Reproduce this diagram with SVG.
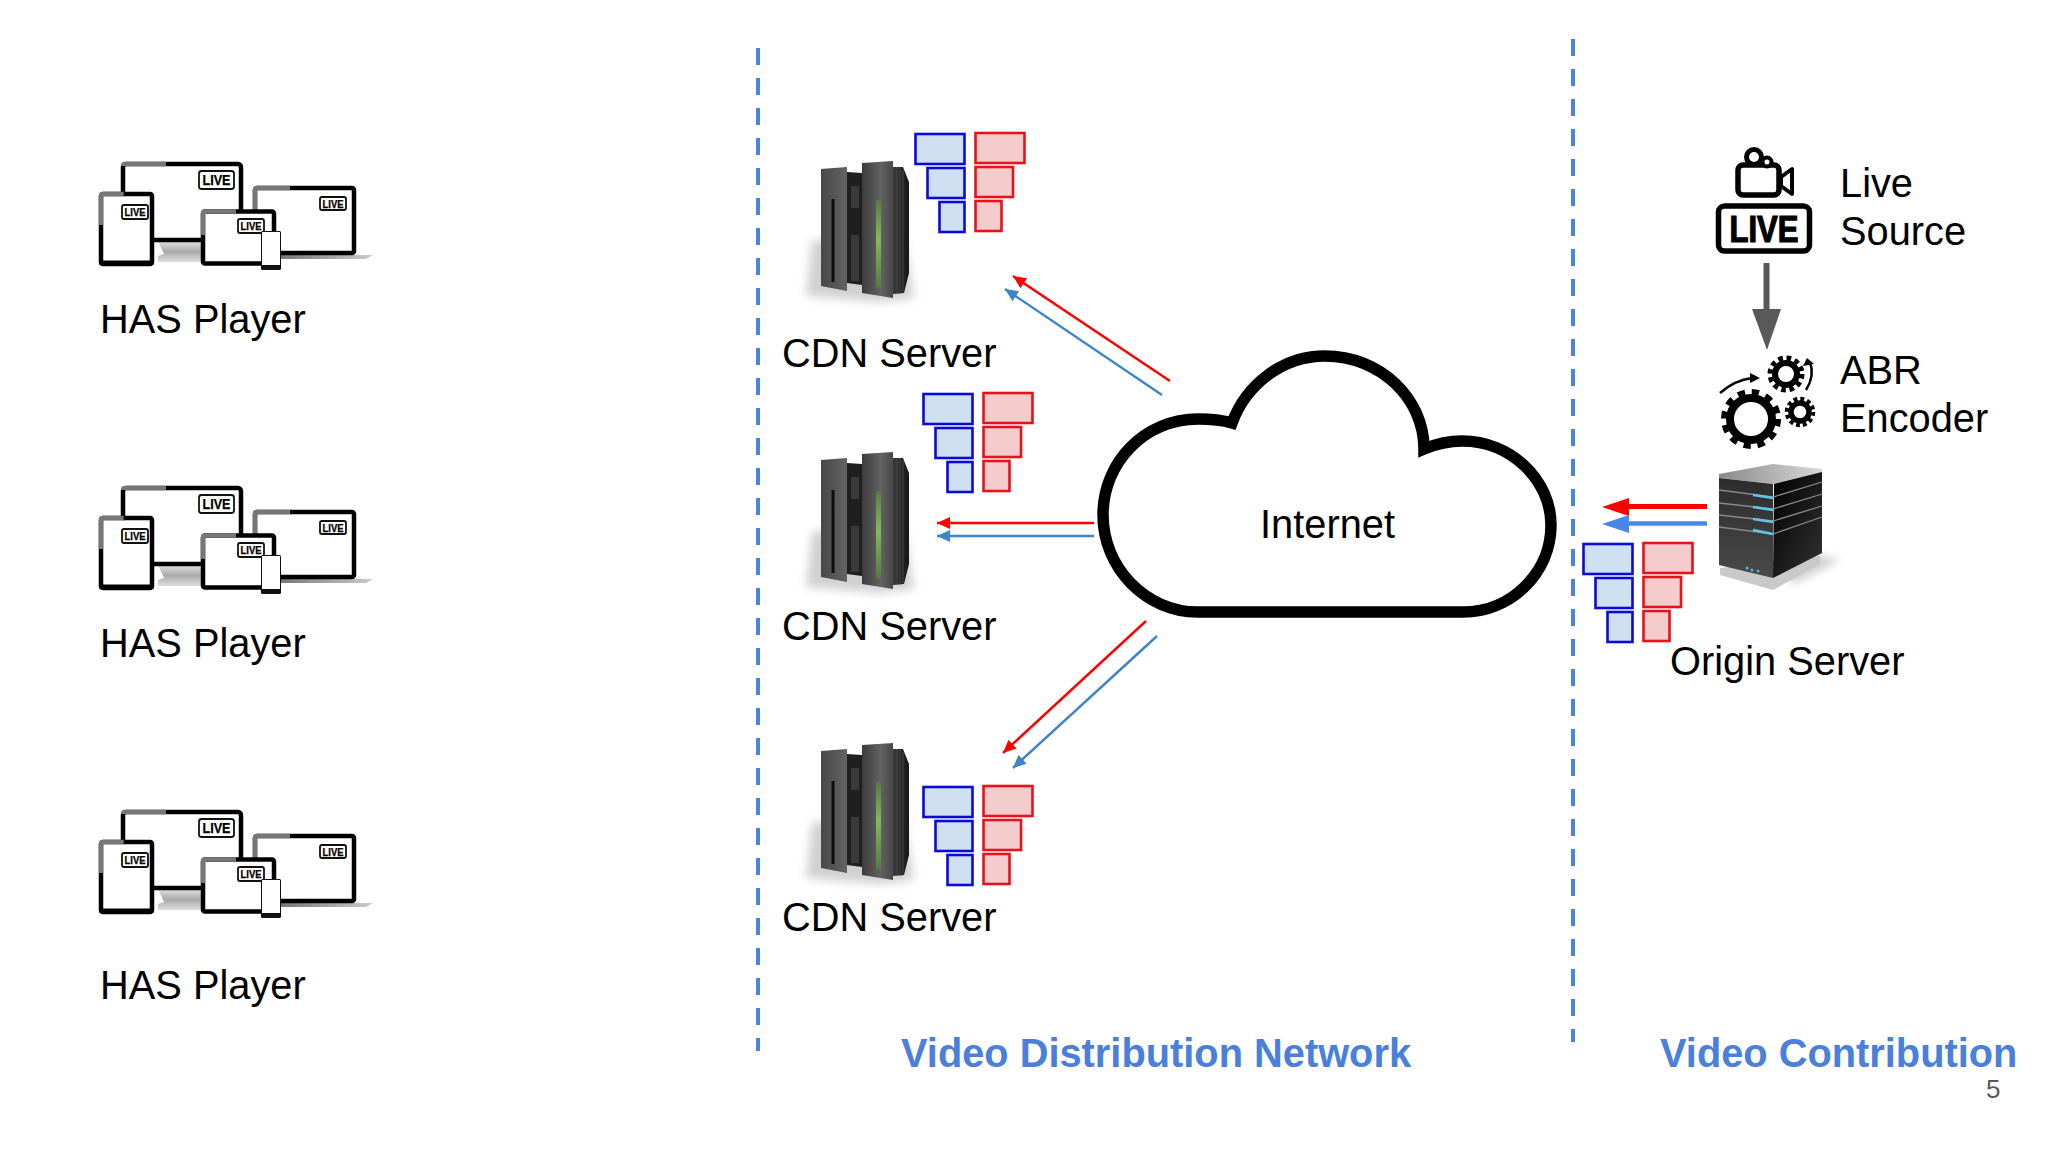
<svg xmlns="http://www.w3.org/2000/svg" width="2048" height="1152" viewBox="0 0 2048 1152">
<style>
text{font-family:"Liberation Sans",Arial,sans-serif;fill:#000}
.lbl{font-size:39.8px}
.ttl{font-size:39.8px;font-weight:bold;fill:#4a7fdc}
.tag{font-size:10px;font-weight:bold;text-anchor:middle;stroke:#000;stroke-width:.25}
.dash{stroke:#4a86dc;stroke-width:4;stroke-dasharray:17 13;fill:none}
.blue{fill:#cfe0f1;stroke:#0a0ad8;stroke-width:2.600}
.red{fill:#f4cccc;stroke:#e8121c;stroke-width:2.600}
.fr{fill:#fff;stroke:#000;stroke-width:4.500;stroke-linejoin:round}
.tg{fill:#fff;stroke:#111;stroke-width:1.800}
.r{stroke:#f00;stroke-width:2.400;fill:none;marker-end:url(#mr)}
.b{stroke:#3d85c6;stroke-width:2.400;fill:none;marker-end:url(#mb)}
</style>
<defs>
<marker id="mr" markerUnits="userSpaceOnUse" markerWidth="14" markerHeight="12" refX="13" refY="6" orient="auto"><path d="M0 0L13 6L0 12Z" fill="#f00"/></marker>
<marker id="mb" markerUnits="userSpaceOnUse" markerWidth="14" markerHeight="12" refX="13" refY="6" orient="auto"><path d="M0 0L13 6L0 12Z" fill="#3d85c6"/></marker>
<linearGradient id="edge" x1="0" y1="0" x2="1" y2="0"><stop offset="0" stop-color="#777"/><stop offset=".9" stop-color="#777"/><stop offset="1" stop-color="#000"/></linearGradient>
<linearGradient id="stand" x1="0" y1="0" x2="0" y2="1"><stop offset="0" stop-color="#e2e2e2"/><stop offset=".5" stop-color="#aaa"/><stop offset="1" stop-color="#ddd"/></linearGradient>
<linearGradient id="base" x1="0" y1="0" x2="1" y2="0"><stop offset="0" stop-color="#777"/><stop offset="1" stop-color="#ccc"/></linearGradient>
<linearGradient id="p1" x1="0" y1="0" x2="1" y2="0"><stop offset="0" stop-color="#484848"/><stop offset="1" stop-color="#636363"/></linearGradient>
<linearGradient id="p2" x1="0" y1="0" x2="1" y2="0"><stop offset="0" stop-color="#3c3c3c"/><stop offset=".6" stop-color="#626262"/><stop offset="1" stop-color="#484848"/></linearGradient>
<linearGradient id="ribs" x1="0" y1="0" x2="1" y2="0"><stop offset="0" stop-color="#3a3a3a"/><stop offset="1" stop-color="#161616"/></linearGradient>
<linearGradient id="gr" x1="0" y1="0" x2="0" y2="1"><stop offset="0" stop-color="#5a7a48"/><stop offset=".45" stop-color="#80bb58"/><stop offset="1" stop-color="#557a46"/></linearGradient>
<linearGradient id="top" x1="0" y1="0" x2="1" y2="0"><stop offset="0" stop-color="#8a8a8a"/><stop offset="1" stop-color="#d8d8d8"/></linearGradient>
<linearGradient id="lf" x1="0" y1="0" x2="0" y2="1"><stop offset="0" stop-color="#2c2c2c"/><stop offset="1" stop-color="#4a4a4a"/></linearGradient>
<linearGradient id="rf" x1="0" y1="0" x2="1" y2="1"><stop offset="0" stop-color="#000"/><stop offset="1" stop-color="#333"/></linearGradient>
<filter id="soft" x="-30%" y="-30%" width="160%" height="160%"><feGaussianBlur stdDeviation="5"/></filter>

<g id="devices">
 <path d="M158 241H200L203 255L213 258V262H158L158 256L164 254Z" fill="url(#stand)"/>
 <rect class="fr" x="123" y="164" width="118" height="76" rx="3"/>
 <path d="M123 166Q123 164 125 164H166" stroke="#777" stroke-width="4.500" fill="none"/>
 <rect class="tg" x="199" y="171" width="35" height="18" rx="2.500" stroke-width="2"/>
 <text class="tag" x="216.500" y="185" style="font-size:14px" textLength="28" lengthAdjust="spacingAndGlyphs">LIVE</text>
 <rect class="fr" x="101" y="194" width="51" height="70" rx="2"/>
 <path d="M99 262.500H154" stroke="#000" stroke-width="4"/>
 <path d="M101 225V196Q101 194 103 194H125" stroke="url(#edge)" stroke-width="4.500" fill="none"/>
 <rect class="tg" x="122" y="205" width="26" height="14" rx="2"/>
 <text class="tag" x="135" y="216" textLength="21" lengthAdjust="spacingAndGlyphs">LIVE</text>
 <path d="M280 255H373L366 259H280Z" fill="url(#base)"/>
 <rect class="fr" x="255" y="188" width="99" height="65" rx="2"/>
 <path d="M255 215V190Q255 188 257 188H290" stroke="#777" stroke-width="4.500" fill="none"/>
 <rect class="tg" x="320" y="197" width="26" height="13" rx="2"/>
 <text class="tag" x="333" y="207.500" textLength="21" lengthAdjust="spacingAndGlyphs">LIVE</text>
 <rect class="fr" x="203" y="211.500" width="71" height="52" rx="2"/>
 <path d="M203 235V213.500Q203 211.500 205 211.500H236" stroke="#777" stroke-width="4.500" fill="none"/>
 <rect class="tg" x="238" y="219" width="26" height="14" rx="2" fill="#fff"/>
 <text class="tag" x="251" y="230" textLength="21" lengthAdjust="spacingAndGlyphs">LIVE</text>
 <rect x="261" y="231" width="20" height="39" rx="1.500" fill="#111"/>
 <rect x="262" y="232" width="18" height="33" fill="#fff"/>
</g>

<g id="rack">
 <path d="M806 296L812 240L905 240L914 298L880 302Z" fill="#aaa" opacity=".55" filter="url(#soft)"/>
 <path d="M847 172L862 173V285L847 283Z" fill="#1f1f1f"/>
 <rect x="851" y="186" width="8" height="22" fill="#3a3a3a"/>
 <rect x="851" y="235" width="8" height="46" fill="#3a3a3a"/>
 <path d="M821 169L847 167V291L821 286Z" fill="url(#p1)"/>
 <path d="M831.500 199H834.500V282H831.500Z" fill="#0e0e0e"/>
 <path d="M862 163L893 161V298L862 293Z" fill="url(#p2)"/>
 <path d="M876 200H881V288L876 287Z" fill="url(#gr)"/>
 <path d="M893 167L903 167L909 182V273L904 293L893 294Z" fill="url(#ribs)"/>
 <path d="M897 167V294M900 167V294M903 170V292" stroke="#555" stroke-width=".7" fill="none"/>
</g>

<g id="stack">
 <rect class="blue" x="915.500" y="134" width="49" height="30"/>
 <rect class="blue" x="927.500" y="168" width="37" height="30"/>
 <rect class="blue" x="939.500" y="202" width="25" height="30"/>
 <rect class="red" x="975.500" y="133" width="49" height="30"/>
 <rect class="red" x="975.500" y="167" width="37.500" height="30"/>
 <rect class="red" x="975.500" y="201" width="26" height="30"/>
</g>
</defs>

<rect width="2048" height="1152" fill="#fff"/>

<g id="boundaries">
 <path class="dash" d="M758 48V1051"/>
 <path class="dash" d="M1573 39V1042"/>
</g>

<g id="player-1"><use href="#devices"/><text class="lbl" x="100" y="333">HAS Player</text></g>
<g id="player-2"><use href="#devices" y="324"/><text class="lbl" x="100" y="657">HAS Player</text></g>
<g id="player-3"><use href="#devices" y="648"/><text class="lbl" x="100" y="999">HAS Player</text></g>

<g id="cdn-1"><use href="#rack"/><use href="#stack"/><text class="lbl" x="782" y="367">CDN Server</text></g>
<g id="cdn-2"><use href="#rack" y="291"/><use href="#stack" x="8" y="260"/><text class="lbl" x="782" y="640">CDN Server</text></g>
<g id="cdn-3"><use href="#rack" y="582"/><use href="#stack" x="8" y="653"/><text class="lbl" x="782" y="931">CDN Server</text></g>

<g id="internet">
 <path d="M1198 612C1145 612 1103 567 1103 515C1103 462 1145 419 1198 419C1210 419 1222 420 1232 423C1246 385 1282 356 1325 356C1380 356 1424 398 1424 449C1436 444 1449 441 1462 441C1511 441 1551 480 1551 525C1551 573 1511 612 1463 612Z" fill="#fff" stroke="#000" stroke-width="11.500" stroke-linejoin="miter"/>
 <text class="lbl" x="1260" y="538">Internet</text>
</g>

<g id="live-source">
 <rect x="1738" y="165" width="41" height="30" rx="5" fill="#fff" stroke="#000" stroke-width="5.500"/>
 <circle cx="1754" cy="157" r="7.500" fill="#fff" stroke="#000" stroke-width="5"/>
 <circle cx="1767" cy="162" r="4.500" fill="#fff" stroke="#000" stroke-width="4"/>
 <path d="M1781 177L1792 169V194L1781 186Z" fill="#fff" stroke="#000" stroke-width="4" stroke-linejoin="round"/>
 <rect x="1718.500" y="206" width="91" height="45" rx="6" fill="#fff" stroke="#000" stroke-width="5.500"/>
 <text x="1764" y="241.500" text-anchor="middle" font-size="36" font-weight="bold" textLength="69" lengthAdjust="spacingAndGlyphs" stroke="#000" stroke-width="1.200">LIVE</text>
 <text class="lbl" x="1840" y="197">Live</text>
 <text class="lbl" x="1840" y="244.500">Source</text>
</g>

<g id="abr-encoder">
 <circle cx="1751" cy="419" r="21" fill="none" stroke="#000" stroke-width="8"/>
 <circle cx="1751" cy="419" r="26" fill="none" stroke="#000" stroke-width="8" stroke-dasharray="7 6.610"/>
 <circle cx="1786" cy="374" r="11" fill="none" stroke="#000" stroke-width="6"/>
 <circle cx="1786" cy="374" r="15.500" fill="none" stroke="#000" stroke-width="6" stroke-dasharray="4.500 3.620"/>
 <circle cx="1800" cy="412" r="9" fill="none" stroke="#000" stroke-width="5.500"/>
 <circle cx="1800" cy="412" r="13" fill="none" stroke="#000" stroke-width="4.500" stroke-dasharray="3.800 3"/>
 <path d="M1720 393Q1735 380 1752 378" fill="none" stroke="#000" stroke-width="2.500"/>
 <path d="M1760 378L1750 373V383Z" fill="#000"/>
 <path d="M1806 390Q1815 376 1810 362" fill="none" stroke="#000" stroke-width="2.500"/>
 <path d="M1807 358L1803 366L1814 364Z" fill="#000"/>
 <text class="lbl" x="1840" y="384">ABR</text>
 <text class="lbl" x="1840" y="432">Encoder</text>
</g>

<g id="origin-server">
 <path d="M1790 550L1840 560L1790 585Z" fill="#999" opacity=".5" filter="url(#soft)"/>
 <path d="M1720 568V575L1773 590L1820 564V556Z" fill="#c9c9c9"/>
 <path d="M1719 474L1773 464L1822 469V476L1774 484L1719 478Z" fill="url(#top)"/>
 <path d="M1719 478L1773 484V578L1719 565Z" fill="url(#lf)"/>
 <path d="M1774 484L1822 472V553L1773 578Z" fill="url(#rf)"/>
 <path d="M1719 490L1773 497L1822 482M1719 503L1773 509L1822 494M1719 515L1773 521L1822 506M1719 527L1773 534L1822 517" fill="none" stroke="#888" stroke-width="1.300"/>
 <path d="M1753 495L1773 498M1753 507L1773 510M1753 519L1773 522M1753 530L1773 534" stroke="#5fc8e8" stroke-width="2.500" fill="none"/>
 <circle cx="1747" cy="568" r="1.500" fill="#4ab8d8"/><circle cx="1752" cy="570" r="1.500" fill="#4ab8d8"/><circle cx="1758" cy="571" r="1.500" fill="#4ab8d8"/>
 <use href="#stack" x="668" y="410"/>
 <text class="lbl" x="1670" y="675">Origin Server</text>
</g>

<g id="connectors">
 <path class="r" d="M1170 381L1013 276"/>
 <path class="b" d="M1162 395L1005 289"/>
 <path class="r" d="M1094 523H937"/>
 <path class="b" d="M1094 536H937"/>
 <path class="r" d="M1146 621L1003 753"/>
 <path class="b" d="M1157 636L1013 768"/>
 <path d="M1707 506.500H1628" stroke="#f00" stroke-width="5"/>
 <path d="M1602 507L1629 498V516Z" fill="#f00"/>
 <path d="M1707 523.500H1628" stroke="#4a86e8" stroke-width="4.500"/>
 <path d="M1602 524L1629 515V533Z" fill="#4a86e8"/>
 <path d="M1766.500 263V312" stroke="#595959" stroke-width="6"/>
 <path d="M1752 309H1781L1767 350Z" fill="#595959"/>
</g>

<g id="labels">
 <text class="ttl" x="901" y="1067">Video Distribution Network</text>
 <text class="ttl" x="1660" y="1067">Video Contribution</text>
 <text x="1986" y="1098" font-size="26" style="fill:#595959">5</text>
</g>
</svg>
